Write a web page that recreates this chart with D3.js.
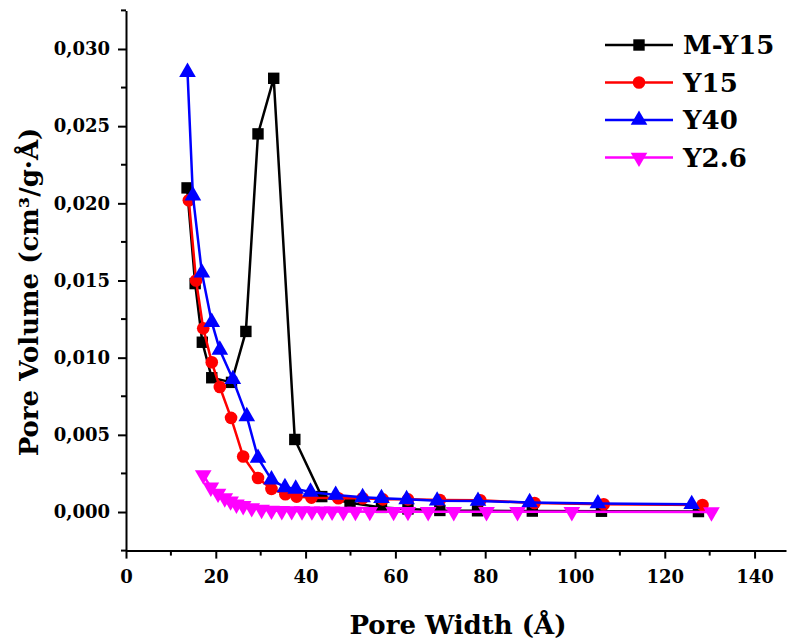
<!DOCTYPE html>
<html>
<head>
<meta charset="utf-8">
<script src="https://cdn.jsdelivr.net/npm/d3@7"></script>
<style>
  body { margin: 0; background: #fff; }
  text { font-family: "DejaVu Serif", serif; font-weight: bold; }
</style>
</head>
<body>
<div id="chart"></div>
<script>
// pore width (Å) and pore volume (cm3/g.Å) per sample
var myWidth = [13.6, 15.4, 17.0, 19.1, 23.5, 26.7, 29.4, 32.9, 37.6, 43.6, 49.9, 56.9, 62.8, 69.9, 78.3, 90.5, 105.9, 127.5];
var myVolume = [0.0210, 0.0148, 0.0110, 0.0087, 0.0084, 0.0117, 0.0245, 0.0281, 0.0047, 0.0010, 0.0006, 0.0003, 0.0002, 0.0001, 0.00008, 0.00006, 0.00005, 0.00003];

var y15Width = [14.0, 15.6, 17.2, 19.1, 20.9, 23.4, 26.1, 29.4, 32.4, 35.5, 38.0, 41.3, 47.3, 52.7, 57.2, 62.8, 69.9, 78.9, 91.0, 106.4, 128.4];
var y15Volume = [0.0202, 0.0150, 0.0119, 0.0097, 0.0081, 0.0061, 0.0036, 0.0022, 0.0015, 0.00115, 0.0010, 0.00093, 0.00089, 0.00089, 0.00082, 0.00082, 0.00078, 0.00076, 0.00058, 0.0005, 0.00045];

var y40Width = [13.7, 14.9, 16.9, 19.1, 20.9, 23.8, 26.9, 29.4, 32.4, 35.4, 37.8, 41.1, 46.7, 52.7, 56.9, 62.5, 69.3, 78.4, 89.9, 105.1, 126.0];
var y40Volume = [0.0285, 0.0205, 0.0155, 0.0123, 0.0105, 0.0086, 0.0062, 0.0035, 0.0021, 0.0016, 0.0015, 0.0013, 0.0011, 0.00095, 0.00089, 0.00082, 0.00073, 0.00071, 0.00062, 0.00055, 0.0005];

var y26Width = [17.2, 18.9, 20.5, 22.0, 23.3, 24.6, 26.1, 28.0, 30.2, 32.4, 34.7, 36.9, 39.2, 41.4, 43.7, 45.9, 48.4, 51.1, 54.3, 59.6, 62.8, 67.3, 73.0, 80.3, 87.2, 99.3, 130.4];
var y26Volume = [0.0024, 0.0016, 0.0012, 0.0009, 0.0007, 0.0005, 0.0004, 0.00026, 0.00016, 0.0001, 0.00008, 0.00007, 0.00006, 0.00005, 0.00004, 0.00004, 0.00003, 0.00003, 0.00002, 0.00002, 0.00002, 0.00001, 0.00001, 0.00001, 0.00001, 0.00001, 0.0];

var seriesNames = ["M-Y15", "Y15", "Y40", "Y2.6"];
var xTicks = [0, 20, 40, 60, 80, 100, 120, 140];
var yTicks = [0, 0.005, 0.010, 0.015, 0.020, 0.025, 0.030];

var series = [
  {name: seriesNames[0], color: "#000000", symbol: d3.symbolSquare, size: 130, rot: 0, x: myWidth, y: myVolume},
  {name: seriesNames[1], color: "#ff0000", symbol: d3.symbolCircle, size: 125, rot: 0, x: y15Width, y: y15Volume},
  {name: seriesNames[2], color: "#0000ff", symbol: d3.symbolTriangle, size: 120, rot: 0, x: y40Width, y: y40Volume},
  {name: seriesNames[3], color: "#ff00ff", symbol: d3.symbolTriangle, size: 120, rot: 180, x: y26Width, y: y26Volume}
];

var W = 787, H = 639;
var svg = d3.select("#chart").append("svg")
    .attr("width", W)
    .attr("height", H);

var x = d3.scaleLinear().domain([0, 147]).range([126, 786]);
var y = d3.scaleLinear().domain([-0.0025, 0.0325]).range([550.6, 10.4]);

var fmt = function(d) { return d3.format(".3f")(d).replace(".", ","); };

// x axis
var xAxis = svg.append("g")
    .attr("transform", "translate(0," + y(-0.0025) + ")")
    .call(d3.axisBottom(x).tickValues(xTicks).tickSize(8).tickPadding(12).tickSizeOuter(0));
xAxis.append("g").selectAll("line")
    .data(d3.range(10, 147, 20))
    .enter().append("line")
    .attr("x1", d => x(d)).attr("x2", d => x(d))
    .attr("y1", 0).attr("y2", 5)
    .attr("stroke", "#000").attr("stroke-width", 2);

// y axis
var yAxis = svg.append("g")
    .attr("transform", "translate(" + x(0) + ",0)")
    .call(d3.axisLeft(y).tickValues(yTicks).tickFormat(fmt).tickSize(8).tickPadding(8).tickSizeOuter(0));
yAxis.append("g").selectAll("line")
    .data([-0.0025, 0.0025, 0.0075, 0.0125, 0.0175, 0.0225, 0.0275, 0.0325])
    .enter().append("line")
    .attr("y1", d => y(d)).attr("y2", d => y(d))
    .attr("x1", 0).attr("x2", -5)
    .attr("stroke", "#000").attr("stroke-width", 2);

svg.selectAll(".domain").attr("stroke-width", 2);
svg.selectAll(".tick line").attr("stroke-width", 2);
svg.selectAll(".tick text")
    .style("font-size", "18px")
    .style("font-family", "DejaVu Serif")
    .style("font-weight", "bold")
    .attr("fill", "#000");

// axis titles
svg.append("text")
    .attr("x", 458).attr("y", 634)
    .attr("text-anchor", "middle")
    .style("font-size", "26px")
    .text("Pore Width (Å)");

svg.append("text")
    .attr("transform", "translate(38,292) rotate(-90)")
    .attr("text-anchor", "middle")
    .style("font-size", "26px")
    .text("Pore Volume (cm³/g·Å)");

// series
var line = d3.line()
    .x(d => x(d[0]))
    .y(d => y(d[1]));

series.forEach(function(s) {
  var pts = s.x.map((v, i) => [v, s.y[i]]);
  var g = svg.append("g");
  g.append("path")
      .datum(pts)
      .attr("fill", "none")
      .attr("stroke", s.color)
      .attr("stroke-width", 2.5)
      .attr("d", line);
  g.selectAll("path.mk")
      .data(pts)
      .enter().append("path")
      .attr("class", "mk")
      .attr("d", d3.symbol().type(s.symbol).size(s.size))
      .attr("transform", d => "translate(" + x(d[0]) + "," + y(d[1]) + ") rotate(" + s.rot + ")")
      .attr("fill", s.color);
});

// legend
var legend = svg.append("g");
series.forEach(function(s, i) {
  var ly = 45 + i * 37.5;
  legend.append("line")
      .attr("x1", 605).attr("x2", 673)
      .attr("y1", ly).attr("y2", ly)
      .attr("stroke", s.color).attr("stroke-width", 2.5);
  legend.append("path")
      .attr("d", d3.symbol().type(s.symbol).size(s.size))
      .attr("transform", "translate(639," + ly + ") rotate(" + s.rot + ")")
      .attr("fill", s.color);
  legend.append("text")
      .attr("x", 683).attr("y", ly + 9)
      .style("font-size", "26px")
      .text(s.name);
});
</script>
</body>
</html>
